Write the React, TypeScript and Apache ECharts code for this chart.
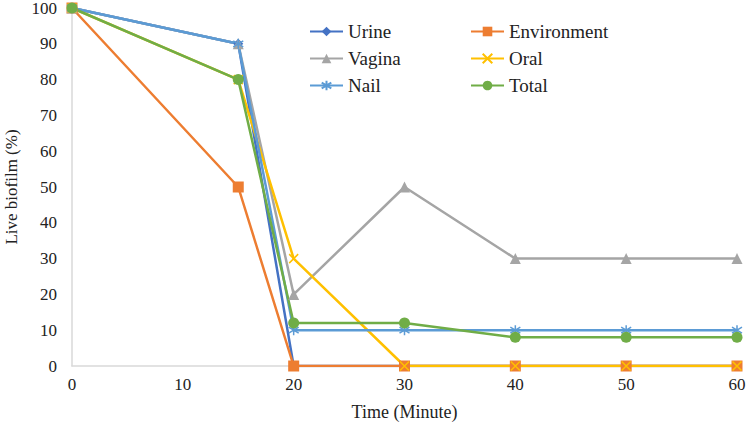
import React, { useEffect, useRef } from "react";
import * as echarts from "echarts";

const times = [0, 15, 20, 30, 40, 50, 60];
const urine = [100, 90, 0, 0, 0, 0, 0];
const environment = [100, 50, 0, 0, 0, 0, 0];
const vagina = [100, 90, 20, 50, 30, 30, 30];
const oral = [100, 80, 30, 0, 0, 0, 0];
const nail = [100, 90, 10, 10, 10, 10, 10];
const total = [100, 80, 12, 12, 8, 8, 8];

const FONT = "Liberation Serif";

const xSym = "path://M0,0L10,10M10,0L0,10";
const starSym = "path://M5,0L5,10M0,2L10,8M0,8L10,2";

function mk(name: string, data: number[], color: string, symbol: string, size: number, strokeOnly = false) {
  return {
    name,
    type: "line",
    data: data.map((v, i) => [times[i], v]),
    symbol,
    symbolSize: size,
    lineStyle: { color, width: 2.5 },
    itemStyle: strokeOnly
      ? { color: "rgba(0,0,0,0)", borderColor: color, borderWidth: 1.5 }
      : { color, borderWidth: 0 },
    emphasis: { disabled: true },
  };
}

export default function App() {
  const ref = useRef<HTMLDivElement>(null);
  useEffect(() => {
    const chart = echarts.init(ref.current!, null, { renderer: "svg" });
    const legendCommon = {
      orient: "vertical",
      padding: 0,
      itemWidth: 33,
      itemHeight: 12,
      itemGap: 8,
      textStyle: { fontFamily: FONT, fontSize: 19, color: "#222" },
      selectedMode: false,
    };
    chart.setOption({
      animation: false,
      backgroundColor: "#fff",
      textStyle: { fontFamily: FONT },
      grid: { left: 72, right: 9, top: 8, bottom: 61, outerBoundsMode: "none", containLabel: false },
      legend: [
        { ...legendCommon, left: 309, top: 22, data: ["Urine", "Vagina", "Nail"] },
        { ...legendCommon, left: 470, top: 22, data: ["Environment", "Oral", "Total"] },
      ],
      xAxis: {
        type: "value",
        min: 0,
        max: 60,
        interval: 10,
        name: "Time (Minute)",
        nameLocation: "middle",
        nameGap: 37,
        nameTextStyle: { fontFamily: FONT, fontSize: 18, color: "#222" },
        axisLine: { show: true, lineStyle: { color: "#d9d9d9", width: 1.5 } },
        axisTick: { show: false },
        splitLine: { show: false },
        axisLabel: { fontFamily: FONT, fontSize: 17, color: "#222", margin: 10 },
      },
      yAxis: {
        type: "value",
        min: 0,
        max: 100,
        interval: 10,
        name: "Live biofilm (%)",
        nameLocation: "middle",
        nameGap: 52,
        nameTextStyle: { fontFamily: FONT, fontSize: 17, color: "#222" },
        axisLine: { show: true, lineStyle: { color: "#d9d9d9", width: 1.5 } },
        axisTick: { show: false },
        splitLine: { show: false },
        axisLabel: { fontFamily: FONT, fontSize: 17, color: "#222", margin: 15 },
      },
      series: [
        mk("Urine", urine, "#4472C4", "diamond", 10),
        mk("Environment", environment, "#ED7D31", "rect", 11),
        mk("Vagina", vagina, "#A5A5A5", "triangle", 11),
        mk("Oral", oral, "#FFC000", xSym, 9, true),
        mk("Nail", nail, "#5B9BD5", starSym, 10, true),
        mk("Total", total, "#70AD47", "circle", 11),
      ],
    });
    return () => chart.dispose();
  }, []);
  return <div ref={ref} style={{ width: 746, height: 427, position: "absolute", left: 0, top: 0 }} />;
}
